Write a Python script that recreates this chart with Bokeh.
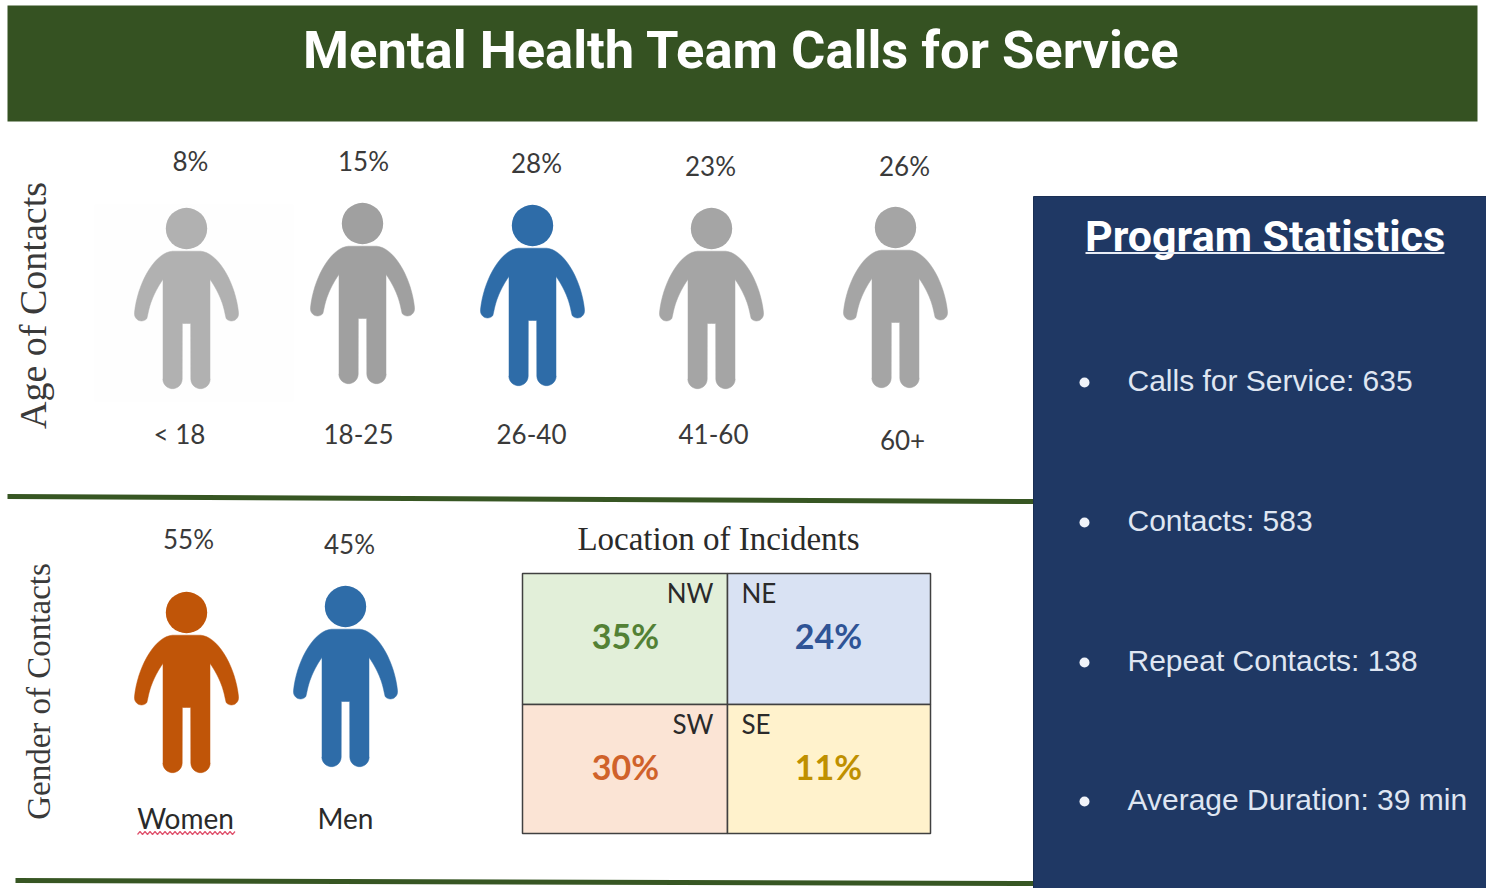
import numpy as np
from bokeh.plotting import figure
from bokeh.models import Range1d
from bokeh.core.properties import value
from bokeh.embed import file_html
from bokeh.resources import INLINE

TITLE = "Mental Health Team Calls for Service"
age_groups = ["< 18", "18-25", "26-40", "41-60", "60+"]
age_share = [8, 15, 28, 23, 26]
genders = ["Women", "Men"]
gender_share = [55, 45]
regions = ["NW", "NE", "SW", "SE"]
region_share = [35, 24, 30, 11]
stat_names = ["Calls for Service", "Contacts", "Repeat Contacts", "Average Duration"]
stat_values = ["635", "583", "138", "39 min"]

W, H = 1486, 888
p = figure(width=W, height=H, x_range=Range1d(1, W + 1), y_range=Range1d(H + 1, 1),
           output_backend="svg", toolbar_location=None, x_axis_type=None, y_axis_type=None,
           min_border=0, outline_line_color=None, background_fill_color="white")
p.grid.visible = False

SANS, SERIF, HEAD, STAT = "Lato", "Liberation Serif", "Roboto", "Liberation Sans"


def label(x, y, s, font=SANS, size=26, color="#3a3a3a", align="center", bold=False, angle=0.0):
    p.text([x], [y], text=[s], text_font=value(font), text_font_size=value(f"{size}px"),
           text_color=color, text_align=align, text_baseline="middle", angle=angle,
           text_font_style="bold" if bold else "normal")


def arc(cx, cy, r, a0, a1, n=14):
    t = np.radians(np.linspace(a0, a1, n))
    return np.c_[cx + r * np.cos(t), cy + r * np.sin(t)]


def bezier(p0, p1, p2, p3, n=18):
    t = np.linspace(0, 1, n)[:, None]
    p0, p1, p2, p3 = map(np.array, (p0, p1, p2, p3))
    return (1-t)**3*p0 + 3*(1-t)**2*t*p1 + 3*(1-t)*t**2*p2 + t**3*p3


def half_person():
    """Left half of the figure, head centre at the origin, y downwards."""
    return np.vstack([
        [[0, 22.7], [-14, 22.7]],
        bezier((-14, 22.7), (-32, 24), (-49, 55), (-52, 84)),
        arc(-45, 85.5, 7, 180, 40, 10),
        bezier((-38.5, 85), (-36, 72), (-30, 60), (-23.5, 51)),
        [[-23.5, 150]],
        arc(-14, 150.5, 9.7, 180, 0, 14),
        [[-4.2, 95], [0, 95]],
    ])


def person(cx, cy, color):
    left = half_person()
    right = left[::-1] * [-1, 1]
    outline = np.vstack([left, right])
    p.patch(cx + outline[:, 0], cy + outline[:, 1], fill_color=color, line_color=color, line_width=0.5)
    p.circle([cx], [cy], radius=20.7, fill_color=color, line_color=None)


# banner
p.quad(left=[8], right=[1478], top=[6], bottom=[122], fill_color="#355222", line_color=None)
label(742, 50, TITLE, font=HEAD, size=52.5, color="white", bold=True)

# faint tile behind the first figure
p.quad(left=[95], right=[294], top=[205], bottom=[402], fill_color="#fefefe", line_color=None)

# age row
age_heads = [(187, 229), (363, 224), (533, 226), (712, 229), (896, 228)]
age_colors = ["#b1b1b1", "#a0a0a0", "#2e6ca8", "#a5a5a5", "#a5a5a5"]
age_pct_pos = [(191, 161), (364, 161), (537, 163), (711, 166), (905, 166)]
age_lab_pos = [(180, 434), (359, 434), (532, 434), (714, 434), (903, 440)]
for i, share in enumerate(age_share):
    person(*age_heads[i], age_colors[i])
    label(*age_pct_pos[i], f"{share}%")
    label(*age_lab_pos[i], age_groups[i])
label(33, 306, "Age of Contacts", font=SERIF, size=38, angle=np.pi / 2)

# dividers
p.line([8, 1034], [497, 502], line_color="#375623", line_width=5)
p.line([16, 1034], [881, 884], line_color="#375623", line_width=5)

# gender row
gender_heads = [(187, 613), (346, 607)]
gender_colors = ["#c05508", "#2e6ca8"]
gender_pct_pos = [(189, 539), (350, 544)]
gender_lab_pos = [(186, 818), (346, 818)]
for i, share in enumerate(gender_share):
    person(*gender_heads[i], gender_colors[i])
    label(*gender_pct_pos[i], f"{share}%")
    label(*gender_lab_pos[i], genders[i], size=28, color="#2a2a2a")
label(39, 692, "Gender of Contacts", font=SERIF, size=33, angle=np.pi / 2)

# spell-check squiggle under "Women"
wx = np.arange(138, 236, 2.5)
wy = 833.5 + 1.5 * (-1.0) ** np.arange(len(wx))
p.line(wx, wy, line_color="#e0556f", line_width=1.2)

# location grid
label(719, 539, "Location of Incidents", font=SERIF, size=33, color="#2a2a2a")
fills = ["#e2efd9", "#d9e2f3", "#fbe4d5", "#fff2cc"]
pct_colors = ["#538135", "#2f5496", "#d0622a", "#bf9000"]
xl, xm, xr = 523, 728, 931
yt, ym, yb = 574, 705, 834
p.quad(left=[xl, xm, xl, xm], right=[xm, xr, xm, xr], top=[yt, yt, ym, ym], bottom=[ym, ym, yb, yb],
       fill_color=fills, line_color="#404040", line_width=1.5)
for i, name in enumerate(regions):
    west = i % 2 == 0
    row_y = yt if i < 2 else ym
    if west:
        label(xm - 14, row_y + 19, name, align="right", color="#2a2a2a")
    else:
        label(xm + 14, row_y + 19, name, align="left", color="#2a2a2a")
    label(626 if west else 829, row_y + 62, f"{region_share[i]}%", size=34, color=pct_colors[i], bold=True)

# statistics panel
p.quad(left=[1034], right=[1487], top=[197], bottom=[889], fill_color="#1f3864", line_color="#1a2f54", line_width=1)
label(1265.5, 236, "Program Statistics", font=HEAD, size=43, color="white", bold=True)
p.line([1086, 1445], [253.5, 253.5], line_color="#e8edf6", line_width=2)
stat_y = [381, 521, 661, 800]
p.scatter([1085] * 4, [y + 2 for y in stat_y], size=10, marker="circle", fill_color="#f0f3f9", line_color=None)
for y, name, val in zip(stat_y, stat_names, stat_values):
    label(1128, y, f"{name}: {val}", font=STAT, size=30, color="#dfe6f2", align="left")

open("out.html", "w").write(file_html(p, INLINE))
